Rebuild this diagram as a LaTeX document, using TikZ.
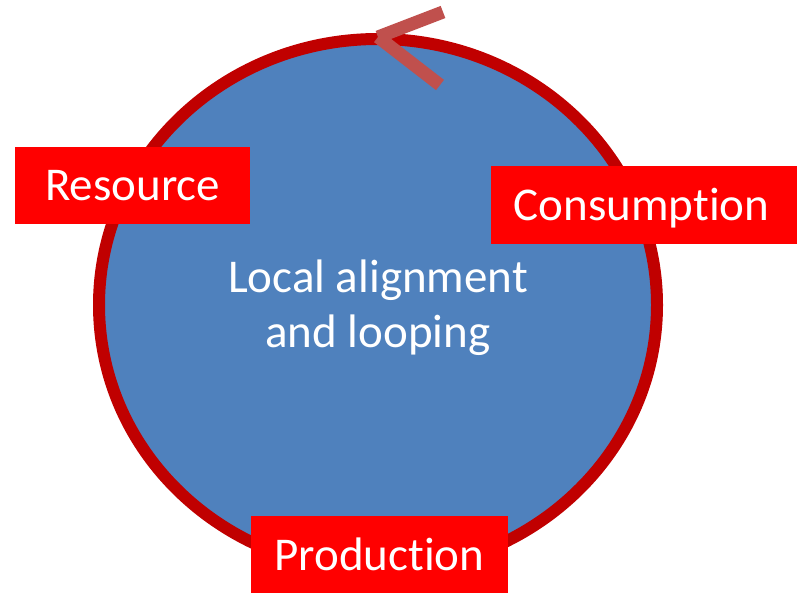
\documentclass[tikz,border=0pt]{standalone}
\usepackage{fontspec}
\setmainfont{Carlito}[Ligatures={NoCommon}]
\definecolor{ringred}{HTML}{C00000}
\definecolor{fillblue}{HTML}{4F81BD}
\definecolor{chev}{HTML}{C0504D}
\definecolor{boxred}{HTML}{FF0000}
\tikzset{
  label box/.style={fill=boxred, draw=none, text=white, inner sep=0pt,
    text height=36bp, text depth=5bp,
    font=\fontsize{47bp}{56bp}\selectfont},
  center text/.style={text=white, inner sep=0pt, anchor=base,
    font=\fontsize{47bp}{56bp}\selectfont},
  chevron/.style={draw=chev, line width=13bp, line cap=butt}
}
\begin{document}
\begin{tikzpicture}[x=1bp,y=-1bp]
\useasboundingbox (0,0) rectangle (797,593);
\draw[draw=ringred, fill=fillblue, line width=12bp] (378,305) ellipse [x radius=279, y radius=266];
\coordinate (tipA) at (443,12);
\coordinate (vtx) at (378,37);
\coordinate (tipB) at (440,85);
\draw[chevron] (tipA) -- (vtx);
\draw[chevron] (vtx) -- (tipB);
\node[label box, minimum width=235bp, minimum height=77bp] (res) at (132.5,185.5) {Resource};
\node[label box, minimum width=306bp, minimum height=78bp] (con) at (644,205) {};
\node[label box, fill=none] (cont) at (641.5,205) {Consumption};
\node[label box, minimum width=257bp, minimum height=77bp] (pro) at (379.5,554.5) {Production};
\node[center text] (t1) at (378,292) {Local alignment};
\node[center text] (t2) at (378,347) {and looping};
\end{tikzpicture}
\end{document}
